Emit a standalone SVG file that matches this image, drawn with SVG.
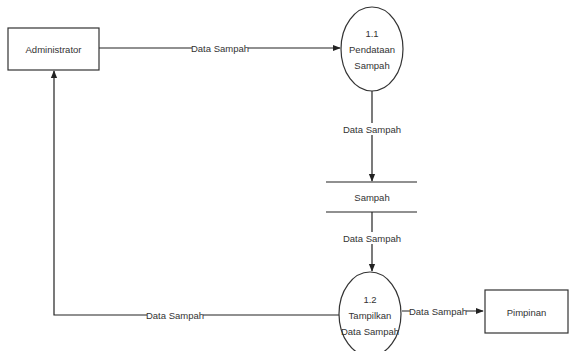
<svg xmlns="http://www.w3.org/2000/svg" width="571" height="351" viewBox="0 0 571 351">
<style>
.n{fill:#fff;stroke:#333;stroke-width:1.2}
.t{font-family:"Liberation Sans",Arial,sans-serif;font-size:9.5px;fill:#333;text-anchor:middle;dominant-baseline:central}
.c{fill:none;stroke:#222;stroke-width:1.2}
.lb{fill:#fff}
</style>
<defs>
<marker id="a" viewBox="0 0 10 10" refX="9" refY="5" markerWidth="8" markerHeight="8" markerUnits="userSpaceOnUse" orient="auto"><path d="M0,1 L10,5 L0,9 Z" fill="#222"/></marker>
</defs>
<rect width="571" height="351" fill="#fff"/>
<g id="connectors">
<path class="c" d="M99,48 H340" marker-end="url(#a)"/>
<rect class="lb" x="192" y="42" width="56" height="12"/>
<text class="t" x="220" y="48">Data Sampah</text>
<path class="c" d="M372,91 V181" marker-end="url(#a)"/>
<rect class="lb" x="344" y="123" width="56" height="12"/>
<text class="t" x="372" y="129">Data Sampah</text>
<path class="c" d="M372,212 V271" marker-end="url(#a)"/>
<rect class="lb" x="344" y="232" width="56" height="12"/>
<text class="t" x="372" y="238">Data Sampah</text>
<path class="c" d="M402,311 H483" marker-end="url(#a)"/>
<rect class="lb" x="410" y="305" width="56" height="12"/>
<text class="t" x="438" y="311">Data Sampah</text>
<path class="c" d="M339,315 H54 V71" marker-end="url(#a)"/>
<rect class="lb" x="147" y="309" width="56" height="12"/>
<text class="t" x="175" y="315">Data Sampah</text>
</g>
<g id="administrator">
<rect class="n" x="8" y="28" width="91" height="42"/>
<text class="t" x="53.5" y="49">Administrator</text>
</g>
<g id="p11">
<ellipse class="n" cx="372" cy="49" rx="31" ry="42"/>
<text class="t" x="372" y="33">1.1</text>
<text class="t" x="372" y="49">Pendataan</text>
<text class="t" x="372" y="65">Sampah</text>
</g>
<g id="sampah">
<path class="c" d="M326,182 H417 M326,212 H417"/>
<text class="t" x="372" y="197">Sampah</text>
</g>
<g id="p12">
<ellipse class="n" cx="370" cy="314" rx="31" ry="42"/>
<text class="t" x="370" y="299">1.2</text>
<text class="t" x="370" y="315">Tampilkan</text>
<text class="t" x="370" y="331">Data Sampah</text>
</g>
<g id="pimpinan">
<rect class="n" x="485" y="290" width="83" height="43"/>
<text class="t" x="526.5" y="312">Pimpinan</text>
</g>
</svg>
